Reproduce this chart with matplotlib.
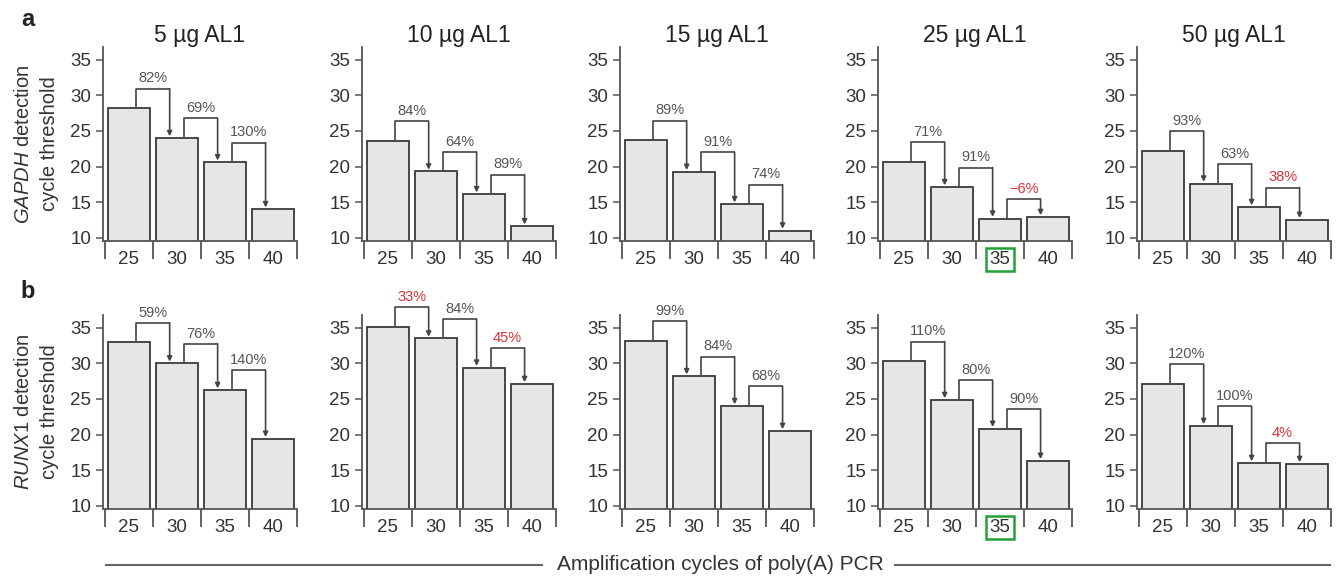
import matplotlib
matplotlib.use('Agg')
import matplotlib.pyplot as plt
from matplotlib.lines import Line2D

plt.rcParams['font.family'] = ['Liberation Sans', 'DejaVu Sans']
plt.rcParams['mathtext.fontset'] = 'custom'
plt.rcParams['mathtext.it'] = 'Liberation Sans:italic'
plt.rcParams['mathtext.rm'] = 'Liberation Sans'

# ---------------- data ----------------
cycles = ['25', '30', '35', '40']
doses = ['5 µg AL1', '10 µg AL1', '15 µg AL1', '25 µg AL1', '50 µg AL1']

gapdh_5 = [28.2, 24.0, 20.6, 14.0]
gapdh_10 = [23.6, 19.3, 16.1, 11.6]
gapdh_15 = [23.7, 19.25, 14.7, 11.0]
gapdh_25 = [20.66, 17.1, 12.67, 12.9]
gapdh_50 = [22.2, 17.6, 14.3, 12.5]

runx1_5 = [32.95, 30.0, 26.25, 19.4]
runx1_10 = [35.14, 33.5, 29.4, 27.1]
runx1_15 = [33.2, 28.2, 24.0, 20.5]
runx1_25 = [30.3, 24.85, 20.8, 16.3]
runx1_50 = [27.1, 21.2, 16.0, 15.85]

gapdh_eff_5 = ['82%', '69%', '130%']
gapdh_eff_10 = ['84%', '64%', '89%']
gapdh_eff_15 = ['89%', '91%', '74%']
gapdh_eff_25 = ['71%', '91%', '\u22126%']
gapdh_eff_50 = ['93%', '63%', '38%']

runx1_eff_5 = ['59%', '76%', '140%']
runx1_eff_10 = ['33%', '84%', '45%']
runx1_eff_15 = ['99%', '84%', '68%']
runx1_eff_25 = ['110%', '80%', '90%']
runx1_eff_50 = ['120%', '100%', '4%']

# flags: which efficiency labels are highlighted (red)
gapdh_red_5 = [False, False, False]
gapdh_red_10 = [False, False, False]
gapdh_red_15 = [False, False, False]
gapdh_red_25 = [False, False, True]
gapdh_red_50 = [False, False, True]
runx1_red_5 = [False, False, False]
runx1_red_10 = [True, False, True]
runx1_red_15 = [False, False, False]
runx1_red_25 = [False, False, False]
runx1_red_50 = [False, False, True]

highlight_dose_index = 3   # 25 µg panel
highlight_cycle_index = 2  # 35 cycles

rows = [
    dict(values=[gapdh_5, gapdh_10, gapdh_15, gapdh_25, gapdh_50],
         effs=[gapdh_eff_5, gapdh_eff_10, gapdh_eff_15, gapdh_eff_25, gapdh_eff_50],
         reds=[gapdh_red_5, gapdh_red_10, gapdh_red_15, gapdh_red_25, gapdh_red_50],
         ylabel='$\\it{GAPDH}$ detection\ncycle threshold', letter='a'),
    dict(values=[runx1_5, runx1_10, runx1_15, runx1_25, runx1_50],
         effs=[runx1_eff_5, runx1_eff_10, runx1_eff_15, runx1_eff_25, runx1_eff_50],
         reds=[runx1_red_5, runx1_red_10, runx1_red_15, runx1_red_25, runx1_red_50],
         ylabel='$\\it{RUNX1}$ detection\ncycle threshold', letter='b'),
]

# ---------------- style ----------------
W, H = 1342, 579
fig = plt.figure(figsize=(W / 100, H / 100), dpi=100)

text_c = '#333333'
axis_c = '#555555'
grey_lab = '#555555'
red_lab = '#e0303a'
bar_face = '#e6e6e6'
bar_edge = '#3a3a3a'
green = '#22a03c'

col_left_px = [103, 362, 620, 878, 1137]
row_top_px = [47, 315]
ax_w_px = 194
ax_h_px = 193.5

x = list(range(len(cycles)))
bounds = [-0.5, 0.5, 1.5, 2.5, 3.5]

for r, row in enumerate(rows):
    for c in range(5):
        left = col_left_px[c] / W
        bottom = 1 - (row_top_px[r] + ax_h_px) / H
        ax = fig.add_axes([left, bottom, ax_w_px / W, ax_h_px / H])
        vals = row['values'][c]
        ax.bar(x, vals, width=0.87, color=bar_face, edgecolor=bar_edge, linewidth=1.3, zorder=2)
        ax.set_xlim(-0.54, 3.505)
        ax.set_ylim(9.6, 36.8)

        for s in ['top', 'right']:
            ax.spines[s].set_visible(False)
        for s in ['left', 'bottom']:
            ax.spines[s].set_color(axis_c)
            ax.spines[s].set_linewidth(1.3)

        ax.set_yticks([10, 15, 20, 25, 30, 35])
        ax.tick_params(axis='y', direction='out', length=5, width=1.1, color=axis_c,
                       labelsize=13.5, labelcolor=text_c, pad=3.5)
        ax.set_xticks(x, cycles)
        ax.tick_params(axis='x', which='major', direction='in', length=2.5, width=1.1,
                       color=axis_c, labelsize=13.5, labelcolor=text_c, pad=7.5)
        ax.set_xticks(bounds, minor=True)
        ax.tick_params(axis='x', which='minor', direction='out', length=13, width=1.3,
                       color=axis_c)

        if r == 0:
            ax.set_title(doses[c], fontsize=16.5, color='#222222', pad=1)

        if c == 0:
            ax.set_ylabel(row['ylabel'], fontsize=14.5, color=text_c, labelpad=8,
                          linespacing=1.45)

        if c == highlight_dose_index:
            lab = ax.get_xticklabels()[highlight_cycle_index]
            lab.set_bbox(dict(boxstyle='square,pad=0.18', fc='none', ec=green, lw=1.8))

        # efficiency brackets
        for i in range(3):
            v1, v2 = vals[i], vals[i + 1]
            top = v1 + 2.75
            xl = x[i] + 0.14
            xr = x[i + 1] - 0.15
            col = red_lab if row['reds'][c][i] else grey_lab
            ax.plot([xl, xl, xr], [v1 + 0.15, top, top], color='#444444', lw=1.2,
                    clip_on=False, zorder=3, solid_capstyle='butt')
            ax.annotate('', xy=(xr, v2 + 0.25), xytext=(xr, top),
                        arrowprops=dict(arrowstyle='-|>', color='#444444', lw=1.2,
                                        mutation_scale=7, shrinkA=0, shrinkB=0),
                        annotation_clip=False, zorder=3)
            ax.text((xl + xr) / 2, top + 0.45, row['effs'][c][i], ha='center', va='bottom',
                    fontsize=10.5, color=col, clip_on=False)

# panel letters
fig.text(28 / W, 1 - 19 / H, 'a', fontsize=17, fontweight='bold', color='#222222',
         ha='center', va='center')
fig.text(28 / W, 1 - 291 / H, 'b', fontsize=17, fontweight='bold', color='#222222',
         ha='center', va='center')

# shared x label with rules
yl = 1 - 565 / H
fig.text(720 / W, yl, 'Amplification cycles of poly(A) PCR', fontsize=15, color='#333333',
         ha='center', va='center')
fig.add_artist(Line2D([106 / W, 542 / W], [yl, yl], color='#666666', lw=1.5))
fig.add_artist(Line2D([895 / W, 1330 / W], [yl, yl], color='#666666', lw=1.5))

fig.savefig('out.png', dpi=100)
